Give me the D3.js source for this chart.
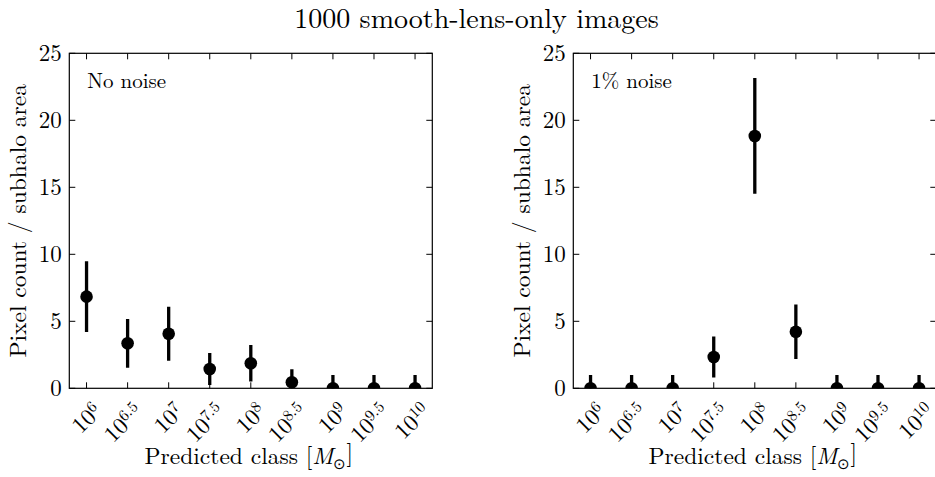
<!DOCTYPE html>
<html>
<head>
<meta charset="utf-8">
<script src="https://cdn.jsdelivr.net/npm/d3@7"></script>
<style>
  html, body { margin: 0; padding: 0; background: #fff; }
</style>
</head>
<body>
<svg id="chart" width="935" height="477"></svg>
<script>
// Predicted mass classes (log10 M_sun exponents shown as 10^x)
const classExponents = ["6", "6.5", "7", "7.5", "8", "8.5", "9", "9.5", "10"];

// Panel 1: no noise — mean pixel count per subhalo area and its error
const noNoiseValues = [6.84, 3.36, 4.07, 1.44, 1.87, 0.45, 0.0, 0.0, 0.0];
const noNoiseErrors = [2.64, 1.82, 2.02, 1.20, 1.36, 0.97, 1.0, 1.0, 1.0];

// Panel 2: 1% noise
const noiseValues = [0.0, 0.0, 0.0, 2.34, 18.83, 4.22, 0.0, 0.0, 0.0];
const noiseErrors = [1.0, 1.0, 1.0, 1.53, 4.32, 2.04, 1.0, 1.0, 1.0];

const yTicks = [0, 5, 10, 15, 20, 25];
const panelLabels = ["No noise", "1% noise"];
const titleText = "1000 smooth-lens-only images";
const yLabelText = "Pixel count  /  subhalo area";

const SERIF = '"Latin Modern Roman"';

const svg = d3.select("#chart");

const panels = [
  { left: 69.3, values: noNoiseValues, errors: noNoiseErrors, label: panelLabels[0], id: "p0" },
  { left: 573.3, values: noiseValues, errors: noiseErrors, label: panelLabels[1], id: "p1" }
];
const axW = 363, axTop = 53.3, axBottom = 388.3;
const tickLen = 6;

function txt(sel) {
  return sel.append("text").style("font-family", SERIF).attr("fill", "#000");
}

txt(svg)
  .attr("x", 476.5).attr("y", 28)
  .attr("text-anchor", "middle")
  .style("font-size", "28px")
  .text(titleText);

panels.forEach((p) => {
  const x = d3.scaleLinear().domain([-0.42, 8.42]).range([p.left, p.left + axW]);
  const y = d3.scaleLinear().domain([0, 25]).range([axBottom, axTop]);
  const idx = d3.range(classExponents.length);

  const g = svg.append("g");

  // clip region for the plotting area
  svg.append("clipPath").attr("id", "clip-" + p.id)
    .append("rect")
    .attr("x", p.left).attr("y", axTop)
    .attr("width", axW).attr("height", axBottom - axTop);

  const plot = g.append("g").attr("clip-path", `url(#clip-${p.id})`);

  // error bars
  plot.selectAll("line.err").data(idx).join("line")
    .attr("class", "err")
    .attr("x1", i => x(i)).attr("x2", i => x(i))
    .attr("y1", i => y(p.values[i] - p.errors[i]))
    .attr("y2", i => y(p.values[i] + p.errors[i]))
    .attr("stroke", "#000").attr("stroke-width", 3.3);

  // markers
  plot.selectAll("circle").data(idx).join("circle")
    .attr("cx", i => x(i)).attr("cy", i => y(p.values[i]))
    .attr("r", 6.3).attr("fill", "#000");

  // inward ticks, all four sides
  const tickG = g.append("g").attr("stroke", "#000").attr("stroke-width", 1);
  idx.forEach(i => {
    tickG.append("line").attr("x1", x(i)).attr("x2", x(i)).attr("y1", axBottom).attr("y2", axBottom - tickLen);
    tickG.append("line").attr("x1", x(i)).attr("x2", x(i)).attr("y1", axTop).attr("y2", axTop + tickLen);
  });
  yTicks.forEach(t => {
    tickG.append("line").attr("x1", p.left).attr("x2", p.left + tickLen).attr("y1", y(t)).attr("y2", y(t));
    tickG.append("line").attr("x1", p.left + axW).attr("x2", p.left + axW - tickLen).attr("y1", y(t)).attr("y2", y(t));
  });

  // frame
  g.append("rect")
    .attr("x", p.left).attr("y", axTop)
    .attr("width", axW).attr("height", axBottom - axTop)
    .attr("fill", "none").attr("stroke", "#000").attr("stroke-width", 1.2);

  // y tick labels
  yTicks.forEach(t => {
    txt(g)
      .attr("x", p.left - 7.5).attr("y", y(t) + 7.5)
      .attr("text-anchor", "end")
      .style("font-size", "23px")
      .text(t);
  });

  // x tick labels: 10^exponent, rotated 45 degrees
  idx.forEach(i => {
    const t = txt(g)
      .attr("transform", `translate(${x(i) + 5},${axBottom + 13}) rotate(-45)`)
      .attr("text-anchor", "end")
      .attr("dy", "0.7em")
      .style("font-size", "23px");
    t.append("tspan").text("10");
    t.append("tspan").attr("dy", "-0.45em").style("font-size", "16px").text(classExponents[i]);
  });

  // panel annotation
  txt(g)
    .attr("x", p.left + 18).attr("y", 88)
    .style("font-size", "21px")
    .text(p.label);

  // y axis label
  txt(g)
    .attr("transform", `translate(${p.left - 43},${(axTop + axBottom) / 2}) rotate(-90)`)
    .attr("text-anchor", "middle")
    .style("font-size", "23.5px")
    .text(yLabelText);

  // x axis label
  const xl = txt(g)
    .attr("x", p.left + axW / 2 - 2).attr("y", 464)
    .attr("text-anchor", "middle")
    .style("font-size", "23.5px");
  xl.append("tspan").text("Predicted class [");
  xl.append("tspan").style("font-style", "italic").text("M");
  xl.append("tspan").attr("dy", "0.3em").style("font-size", "15px").text("\u2299");
  xl.append("tspan").attr("dy", "-0.3em").text("]");
});
</script>
</body>
</html>
